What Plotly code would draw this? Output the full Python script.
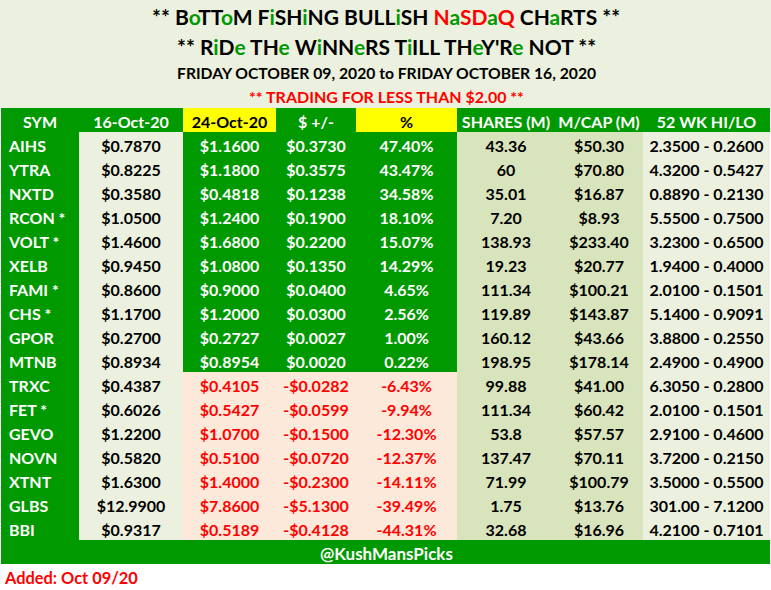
import plotly.graph_objects as go

symbols = ["AIHS", "YTRA", "NXTD", "RCON *", "VOLT *", "XELB", "FAMI *", "CHS *", "GPOR", "MTNB",
           "TRXC", "FET *", "GEVO", "NOVN", "XTNT", "GLBS", "BBI"]
price_start = ["$0.7870", "$0.8225", "$0.3580", "$1.0500", "$1.4600", "$0.9450", "$0.8600", "$1.1700", "$0.2700",
               "$0.8934", "$0.4387", "$0.6026", "$1.2200", "$0.5820", "$1.6300", "$12.9900", "$0.9317"]
price_end = ["$1.1600", "$1.1800", "$0.4818", "$1.2400", "$1.6800", "$1.0800", "$0.9000", "$1.2000", "$0.2727",
             "$0.8954", "$0.4105", "$0.5427", "$1.0700", "$0.5100", "$1.4000", "$7.8600", "$0.5189"]
change = ["$0.3730", "$0.3575", "$0.1238", "$0.1900", "$0.2200", "$0.1350", "$0.0400", "$0.0300", "$0.0027",
          "$0.0020", "-$0.0282", "-$0.0599", "-$0.1500", "-$0.0720", "-$0.2300", "-$5.1300", "-$0.4128"]
percent = ["47.40%", "43.47%", "34.58%", "18.10%", "15.07%", "14.29%", "4.65%", "2.56%", "1.00%",
           "0.22%", "-6.43%", "-9.94%", "-12.30%", "-12.37%", "-14.11%", "-39.49%", "-44.31%"]
shares = ["43.36", "60", "35.01", "7.20", "138.93", "19.23", "111.34", "119.89", "160.12",
          "198.95", "99.88", "111.34", "53.8", "137.47", "71.99", "1.75", "32.68"]
mcap = ["$50.30", "$70.80", "$16.87", "$8.93", "$233.40", "$20.77", "$100.21", "$143.87", "$43.66",
        "$178.14", "$41.00", "$60.42", "$57.57", "$70.11", "$100.79", "$13.76", "$16.96"]
hilo = ["2.3500 - 0.2600", "4.3200 - 0.5427", "0.8890 - 0.2130", "5.5500 - 0.7500", "3.2300 - 0.6500",
        "1.9400 - 0.4000", "2.0100 - 0.1501", "5.1400 - 0.9091", "3.8800 - 0.2550", "2.4900 - 0.4900",
        "6.3050 - 0.2800", "2.0100 - 0.1501", "2.9100 - 0.4600", "3.7200 - 0.2150", "3.5000 - 0.5500",
        "301.00 - 7.1200", "4.2100 - 0.7101"]
headers = ["SYM", "16-Oct-20", "24-Oct-20", "$ +/-", "%", "SHARES (M)", "M/CAP (M)", "52 WK HI/LO"]
col_widths = [78, 104, 93, 80, 101, 98, 88, 127]

GREEN = "#009900"
PALE = "#EBF1DE"
OLIVE = "#D8E4BC"
PEACH = "#FDE9D9"
RED = "#FF0000"
YELLOW = "#FFFF00"
FONT = "Lato"

up = [not c.startswith("-") for c in change]
move_fill = [GREEN if u else PEACH for u in up]
move_text = ["white" if u else RED for u in up]


def nowrap(items):
    # table cells wrap on plain spaces
    return [s.replace(" ", "\u00a0") for s in items]


def title_markup(text, red_words=()):
    # lower case letters are green, words in red_words are red apart from that
    out = []
    for word in text.split(" "):
        base = RED if word in red_words else "black"
        chars = ""
        for ch in word:
            col = GREEN if ch.islower() else base
            chars += f'<span style="color:{col}">{ch}</span>'
        out.append(chars)
    return " ".join(out)


fig = go.Figure(go.Table(
    domain=dict(x=[1 / 771, 770 / 771], y=[50 / 590, 482 / 590]),
    columnwidth=col_widths,
    header=dict(
        values=nowrap(headers),
        height=24,
        align="center",
        fill_color=[GREEN, GREEN, YELLOW, GREEN, YELLOW, GREEN, GREEN, GREEN],
        font=dict(family=FONT, size=16, weight="bold",
                  color=["white", "white", "black", "white", "black", "white", "white", "white"]),
        line_width=0,
    ),
    cells=dict(
        values=[nowrap(symbols), price_start, price_end, change, percent, shares, mcap, nowrap(hilo)],
        height=24,
        align=["left", "center", "center", "center", "center", "center", "center", "center"],
        fill_color=[GREEN, PALE, move_fill, move_fill, move_fill, OLIVE, OLIVE, PALE],
        font=dict(family=FONT, size=16, weight="bold",
                  color=["white", "black", move_text, move_text, move_text, "black", "black", "black"]),
        line_width=0,
    ),
))


def add_text(text, x, y, size, color="black", xanchor="center"):
    fig.add_annotation(text=text, x=x / 771, y=1 - y / 590, xref="paper", yref="paper",
                       xanchor=xanchor, yanchor="middle", showarrow=False, borderpad=0, borderwidth=0,
                       font=dict(family=FONT, size=size, color=color, weight="bold"))


fig.add_shape(type="rect", xref="paper", yref="paper", x0=0, x1=1, y0=482 / 590, y1=1,
              fillcolor=PALE, line_width=0, layer="below")
fig.add_shape(type="rect", xref="paper", yref="paper", x0=1 / 771, x1=770 / 771, y0=26 / 590, y1=50 / 590,
              fillcolor=GREEN, line_width=0, layer="below")

add_text(title_markup("** BoTToM FiSHiNG BULLiSH NaSDaQ CHaRTS **", ("NaSDaQ",)), 386, 17, 21)
add_text(title_markup("** RiDe THe WiNNeRS TiILL THeY'Re NOT **"), 386, 47, 21)
add_text("FRIDAY OCTOBER 09, 2020 to FRIDAY OCTOBER 16, 2020", 386, 73, 15.7)
add_text("** TRADING FOR LESS THAN $2.00 **", 386, 97, 16, RED)
add_text("@KushMansPicks", 386, 553, 17, "white")
add_text("Added: Oct 09/20", 4, 577, 16.4, RED, "left")

fig.update_layout(width=771, height=590, margin=dict(l=0, r=0, t=0, b=0),
                  paper_bgcolor="white", plot_bgcolor="white")

fig.write_html("out.html", config=dict(displayModeBar=False),
               post_script="document.body.style.margin='0';")
